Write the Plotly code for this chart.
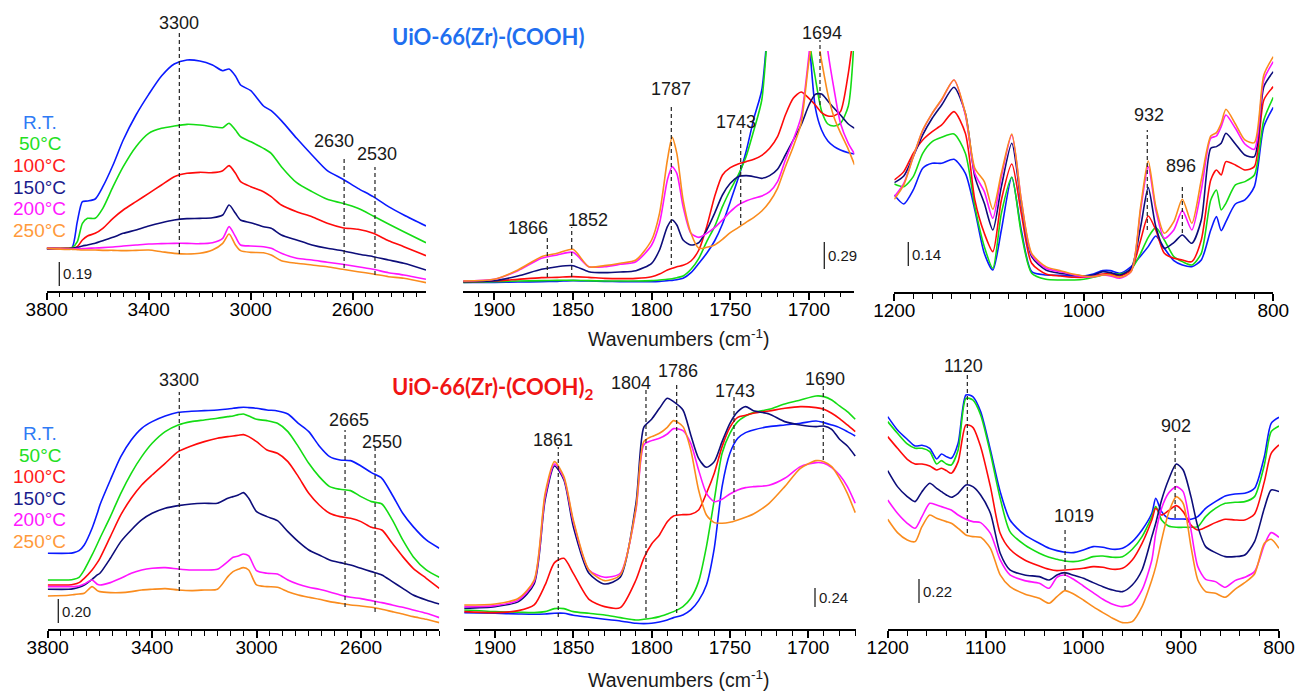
import plotly.graph_objects as go

W, H = 1296, 692

SERIES = ["R.T.", "50°C", "100°C", "150°C", "200°C", "250°C"]
LINE_COLORS = ["#0a1aff", "#14dc14", "#ff0a0a", "#0d0d7a", "#ff14ff", "#fa8c1e"]
TEXT_COLORS = ["#2f7bf5", "#22e022", "#ff1a1a", "#1a1a8c", "#ff1aff", "#ff9a3c"]

# ---------------- UiO-66(Zr)-(COOH) : 3800-2300 cm-1 (absorbance, a.u.)
WN_A = [3800, 3720, 3700, 3680, 3660, 3640, 3610, 3580, 3540, 3500, 3450, 3400, 3350, 3300, 3250, 3200, 3150,
        3110, 3085, 3060, 3040, 3000, 2950, 2920, 2880, 2820, 2760, 2700, 2640, 2580, 2520, 2460, 2400, 2313]
A_RT = [128, 128, 131, 208, 268, 270, 276, 313, 378, 453, 528, 590, 645, 681, 693, 690, 678,
        661, 666, 645, 618, 601, 555, 541, 511, 458, 408, 361, 336, 308, 283, 253, 228, 195]
A_50 = [128, 128, 130, 148, 203, 218, 218, 248, 313, 373, 433, 473, 488, 495, 500, 498, 493,
        490, 503, 483, 463, 448, 428, 413, 373, 325, 298, 275, 263, 248, 225, 201, 178, 145]
A_100 = [128, 128, 128, 133, 153, 165, 173, 188, 218, 243, 268, 293, 318, 343, 353, 356, 355,
         361, 376, 353, 328, 313, 298, 283, 258, 238, 223, 203, 190, 185, 173, 151, 133, 106]
A_150 = [126, 126, 128, 131, 135, 138, 143, 151, 161, 173, 183, 195, 205, 213, 217, 218, 220,
         228, 258, 233, 213, 205, 193, 188, 168, 153, 138, 128, 121, 111, 103, 93, 83, 63]
A_200 = [128, 126, 126, 127, 127, 128, 129, 130, 132, 135, 138, 141, 142, 143, 143, 142, 145,
         158, 193, 163, 138, 135, 133, 128, 113, 98, 93, 86, 80, 73, 65, 55, 48, 35]
A_250 = [128, 125, 125, 124, 123, 123, 123, 122, 122, 121, 122, 123, 118, 113, 111, 113, 123,
         143, 171, 138, 121, 116, 115, 108, 91, 83, 78, 73, 65, 58, 51, 43, 38, 25]

# ---------------- UiO-66(Zr)-(COOH) : 1920-1670 cm-1
WN_B = [1920, 1900, 1885, 1870, 1860, 1850, 1840, 1830, 1820, 1810, 1800, 1795, 1790, 1787, 1784, 1780, 1775,
        1770, 1765, 1760, 1755, 1750, 1745, 1740, 1735, 1730, 1725, 1720, 1715, 1710, 1705, 1700, 1696, 1692,
        1688, 1684, 1680, 1675, 1671]
B_RT = [26, 26, 27, 28, 29, 31, 30, 29, 28, 28, 28, 29, 31, 32, 34, 38, 55,
        83, 113, 150, 201, 268, 338, 418, 518, 603, 850, 1000, 1000, 1000, 1000, 760, 551, 483,
        450, 433, 423, 415, 411]
B_50 = [26, 28, 30, 31, 32, 32, 31, 30, 30, 30, 31, 33, 35, 37, 40, 45, 65,
        98, 148, 193, 253, 303, 348, 403, 483, 573, 850, 1000, 1000, 1000, 1000, 760, 640, 540,
        501, 495, 503, 555, 790]
B_100 = [28, 30, 35, 40, 41, 43, 41, 38, 37, 38, 43, 51, 63, 68, 73, 77, 90,
         123, 193, 283, 348, 370, 381, 388, 395, 407, 428, 463, 528, 578, 597, 578, 558, 535,
         525, 526, 538, 653, 800]
B_150 = [28, 31, 45, 65, 73, 76, 58, 55, 57, 61, 83, 123, 193, 213, 198, 153, 138,
         145, 183, 233, 288, 323, 343, 346, 343, 338, 346, 365, 408, 453, 498, 558, 590, 591,
         570, 548, 528, 501, 488]
B_200 = [30, 35, 61, 98, 108, 116, 73, 73, 80, 88, 138, 203, 333, 373, 353, 253, 173,
         161, 173, 190, 213, 238, 258, 270, 278, 285, 298, 328, 393, 453, 523, 710, 900, 900,
         720, 603, 503, 443, 411]
B_250 = [30, 35, 63, 103, 113, 125, 73, 76, 83, 93, 153, 233, 393, 461, 413, 273, 173,
         128, 131, 138, 155, 175, 190, 206, 221, 240, 268, 308, 373, 433, 503, 690, 790, 690,
         590, 520, 475, 425, 378]

# ---------------- UiO-66(Zr)-(COOH) : 1200-800 cm-1
WN_C = [1200, 1190, 1180, 1170, 1160, 1150, 1137, 1125, 1115, 1105, 1096, 1087, 1076, 1066, 1055, 1040, 1025,
        1010, 1000, 990, 980, 972, 962, 950, 940, 932, 924, 915, 905, 896, 886, 876, 866, 860, 855, 850, 840,
        830, 820, 810, 800]
C_RT = [292, 265, 307, 372, 387, 387, 399, 357, 247, 117, 67, 187, 345, 187, 62, 52, 51,
        49, 49, 55, 65, 65, 57, 77, 109, 137, 169, 132, 95, 82, 77, 97, 187, 227, 185, 212, 265,
        277, 317, 497, 555]
C_50 = [325, 317, 347, 417, 452, 465, 475, 417, 257, 137, 72, 237, 345, 177, 57, 39, 37,
        37, 39, 45, 52, 55, 55, 69, 117, 165, 194, 157, 107, 92, 82, 117, 277, 307, 247, 267, 322,
        332, 352, 517, 585]
C_100 = [337, 362, 417, 457, 482, 502, 542, 477, 277, 177, 122, 277, 385, 237, 87, 55, 49,
         45, 45, 49, 55, 55, 49, 67, 157, 229, 187, 117, 102, 97, 92, 157, 337, 367, 352, 392, 382,
         367, 377, 577, 617]
C_150 = [329, 349, 407, 472, 522, 562, 615, 537, 347, 267, 187, 317, 447, 267, 107, 67, 57,
         52, 49, 52, 62, 59, 52, 72, 197, 314, 197, 132, 149, 172, 147, 217, 432, 437, 447, 477, 445,
         412, 407, 617, 662]
C_200 = [287, 327, 407, 485, 537, 577, 637, 532, 357, 302, 222, 347, 472, 277, 112, 72, 62,
         52, 47, 47, 52, 49, 42, 62, 247, 377, 247, 162, 187, 245, 187, 307, 462, 469, 497, 532, 492,
         445, 429, 637, 692]
C_250 = [279, 322, 407, 487, 537, 579, 637, 537, 372, 332, 249, 357, 475, 277, 117, 77, 65,
         54, 49, 47, 52, 52, 45, 62, 257, 394, 257, 177, 212, 279, 207, 337, 469, 479, 507, 549, 505,
         457, 449, 652, 707]

# ---------------- UiO-66(Zr)-(COOH)2 : 3800-2300 cm-1
WN_D = [3800, 3720, 3700, 3680, 3660, 3630, 3610, 3600, 3560, 3520, 3480, 3440, 3400, 3350, 3300, 3250, 3200,
        3150, 3110, 3090, 3070, 3050, 3030, 3000, 2960, 2920, 2880, 2840, 2800, 2760, 2720, 2680, 2640, 2600,
        2560, 2520, 2480, 2440, 2400, 2350, 2300]
D_RT = [228, 228, 230, 236, 253, 303, 348, 373, 448, 518, 568, 603, 623, 640, 651, 654, 656,
        658, 661, 663, 665, 666, 665, 663, 658, 655, 646, 618, 593, 550, 518, 508, 506, 490,
        470, 453, 403, 348, 308, 268, 243]
D_50 = [148, 148, 150, 156, 178, 223, 256, 273, 338, 408, 468, 518, 558, 593, 613, 623, 628,
        633, 638, 640, 644, 646, 640, 630, 626, 618, 593, 548, 498, 458, 428, 420, 416, 398,
        383, 376, 328, 268, 218, 178, 156]
D_100 = [133, 133, 135, 140, 153, 178, 200, 213, 278, 343, 393, 433, 463, 498, 533, 550, 563,
         573, 578, 580, 582, 584, 578, 563, 538, 528, 503, 458, 408, 373, 348, 338, 333, 323,
         306, 298, 258, 218, 183, 153, 123]
D_150 = [120, 120, 122, 126, 133, 150, 163, 168, 213, 263, 298, 328, 348, 363, 371, 376, 378,
         378, 393, 398, 403, 410, 393, 353, 338, 326, 293, 263, 238, 223, 208, 200, 193, 183,
         173, 163, 143, 123, 103, 88, 76]
D_200 = [128, 128, 128, 130, 136, 148, 135, 133, 140, 153, 168, 178, 183, 185, 181, 178, 178,
         180, 203, 216, 220, 226, 220, 176, 168, 166, 148, 135, 126, 120, 112, 103, 96, 92,
         86, 80, 73, 66, 58, 48, 35]
D_250 = [100, 102, 104, 106, 108, 128, 116, 113, 110, 110, 113, 118, 120, 122, 118, 116, 118,
         120, 158, 173, 180, 185, 178, 133, 128, 126, 113, 103, 96, 90, 83, 78, 73, 70,
         66, 60, 53, 46, 38, 30, 20]

# ---------------- UiO-66(Zr)-(COOH)2 : 1920-1670 cm-1
WN_E = [1920, 1900, 1885, 1875, 1868, 1862, 1856, 1850, 1840, 1830, 1820, 1810, 1805, 1800, 1795, 1790, 1786,
        1780, 1775, 1770, 1765, 1760, 1755, 1750, 1745, 1740, 1735, 1725, 1715, 1705, 1695, 1690, 1685, 1680,
        1675, 1670]
E_RT = [50, 48, 46, 45, 46, 48, 48, 42, 36, 30, 25, 18, 17, 18, 22, 28, 35,
        43, 58, 86, 133, 243, 428, 528, 573, 590, 598, 608, 613, 618, 625, 620, 613, 605, 593, 580]
E_50 = [58, 53, 51, 50, 53, 62, 62, 53, 48, 43, 35, 28, 30, 33, 38, 46, 53,
        68, 93, 143, 248, 388, 528, 588, 623, 640, 650, 660, 676, 688, 700, 698, 688, 670, 653, 630]
E_100 = [53, 50, 56, 73, 133, 200, 213, 168, 90, 68, 65, 148, 213, 256, 283, 323, 340,
         344, 345, 358, 408, 468, 548, 606, 636, 642, 648, 655, 663, 668, 665, 660, 648, 632, 613, 593]
E_150 = [63, 68, 83, 136, 388, 490, 448, 308, 168, 136, 156, 378, 606, 630, 663, 693, 683,
         658, 583, 513, 486, 503, 563, 618, 653, 668, 656, 646, 623, 613, 608, 610, 600, 570, 550, 520]
E_200 = [68, 71, 88, 143, 398, 496, 453, 323, 178, 156, 168, 358, 553, 566, 573, 586, 602,
         596, 558, 478, 408, 383, 390, 406, 418, 425, 428, 432, 453, 488, 500, 498, 485, 463, 428, 378]
E_250 = [73, 76, 93, 148, 408, 503, 458, 328, 178, 146, 163, 363, 563, 578, 588, 606, 626,
         608, 538, 418, 343, 320, 318, 321, 328, 336, 346, 378, 428, 483, 506, 503, 488, 453, 408, 350]

# ---------------- UiO-66(Zr)-(COOH)2 : 1200-800 cm-1
WN_F = [1200, 1190, 1180, 1172, 1165, 1157, 1150, 1145, 1140, 1135, 1128, 1120, 1113, 1105, 1095, 1085, 1075,
        1060, 1045, 1035, 1027, 1019, 1010, 1000, 990, 980, 970, 960, 950, 940, 930, 926, 920, 913, 905, 898,
        890, 883, 875, 865, 855, 845, 835, 825, 815, 808, 800]
F_RT = [638, 598, 570, 550, 552, 543, 511, 526, 518, 513, 558, 703, 698, 653, 538, 413, 328,
        283, 258, 243, 236, 231, 230, 238, 248, 246, 240, 243, 263, 298, 348, 393, 353, 333, 331, 331,
        330, 338, 363, 383, 400, 406, 408, 423, 518, 618, 636]
F_50 = [623, 588, 556, 543, 543, 533, 496, 506, 496, 493, 538, 693, 688, 643, 528, 393, 293,
        253, 228, 216, 210, 205, 203, 208, 218, 220, 216, 218, 240, 278, 338, 368, 328, 310, 306, 306,
        306, 308, 338, 363, 378, 381, 383, 398, 493, 593, 610]
F_100 = [578, 543, 510, 496, 496, 490, 478, 483, 476, 468, 503, 613, 606, 548, 428, 288, 240,
         208, 190, 180, 176, 178, 180, 183, 188, 186, 180, 183, 208, 258, 328, 363, 343, 356, 371, 353,
         313, 298, 306, 320, 330, 328, 328, 346, 443, 528, 553]
F_150 = [476, 428, 398, 383, 413, 438, 423, 413, 403, 396, 408, 433, 428, 403, 348, 228, 178,
         163, 158, 148, 163, 170, 162, 153, 140, 128, 118, 113, 133, 178, 278, 318, 388, 448, 496, 478,
         398, 308, 248, 230, 218, 218, 223, 263, 363, 418, 413]
F_200 = [388, 348, 318, 303, 338, 378, 373, 368, 363, 358, 343, 330, 323, 320, 288, 208, 163,
         146, 138, 123, 156, 163, 150, 130, 110, 90, 75, 68, 76, 118, 208, 288, 363, 408, 428, 413,
         298, 188, 150, 143, 126, 146, 156, 173, 253, 290, 276]
F_250 = [330, 290, 268, 263, 308, 343, 333, 328, 323, 318, 303, 283, 278, 276, 243, 163, 128,
         106, 93, 78, 98, 116, 106, 88, 68, 50, 33, 20, 23, 68, 148, 188, 268, 348, 398, 378,
         248, 148, 113, 108, 96, 120, 140, 166, 258, 270, 243]

# ---------------- layout helpers (pixel -> paper)
def pxx(px):
    return px / W


def pxy(py):
    return 1 - py / H


TICK_FONT = dict(family="Liberation Sans, Arial, sans-serif", size=19, color="black")
LABEL_FONT = dict(family="Liberation Sans, Arial, sans-serif", size=18, color="#1a1a1a")
SMALL_FONT = dict(family="Liberation Sans, Arial, sans-serif", size=15, color="#1a1a1a")

panels = [
    dict(wn=WN_A, ys=[A_RT, A_50, A_100, A_150, A_200, A_250], xpx=(46.7, 426.0), ypx=(291.0, 51.0),
         rng=[3800, 2313], tv=[3800, 3400, 3000, 2600], minor=50),
    dict(wn=WN_B, ys=[B_RT, B_50, B_100, B_150, B_200, B_250], xpx=(463.3, 854.3), ypx=(291.0, 51.0),
         rng=[1919.7, 1671.2], tv=[1900, 1850, 1800, 1750, 1700], minor=10),
    dict(wn=WN_C, ys=[C_RT, C_50, C_100, C_150, C_200, C_250], xpx=(894.3, 1273.3), ypx=(292.3, 52.3),
         rng=[1200, 800], tv=[1200, 1000, 800], minor=20),
    dict(wn=WN_D, ys=[D_RT, D_50, D_100, D_150, D_200, D_250], xpx=(47.7, 439.3), ypx=(629.3, 389.3),
         rng=[3800, 2300], tv=[3800, 3400, 3000, 2600], minor=50),
    dict(wn=WN_E, ys=[E_RT, E_50, E_100, E_150, E_200, E_250], xpx=(464.3, 856.0), ypx=(629.3, 389.3),
         rng=[1919.6, 1669.5], tv=[1900, 1850, 1800, 1750, 1700], minor=10),
    dict(wn=WN_F, ys=[F_RT, F_50, F_100, F_150, F_200, F_250], xpx=(887.7, 1279.0), ypx=(629.3, 389.3),
         rng=[1200, 800], tv=[1200, 1100, 1000, 900, 800], minor=20),
]

fig = go.Figure()
layout = dict(width=W, height=H, margin=dict(l=0, r=0, t=0, b=0, pad=0, autoexpand=False),
              paper_bgcolor="white", plot_bgcolor="rgba(0,0,0,0)", showlegend=False)

for i, p in enumerate(panels):
    k = "" if i == 0 else str(i + 1)
    for j, y in enumerate(p["ys"]):
        fig.add_trace(go.Scatter(x=p["wn"], y=y, mode="lines", name=SERIES[j],
                                 line=dict(color=LINE_COLORS[j], width=1.6, shape="spline", smoothing=0.7),
                                 xaxis="x" + k, yaxis="y" + k, hoverinfo="skip"))
    layout["xaxis" + k] = dict(
        domain=[pxx(p["xpx"][0]), pxx(p["xpx"][1])], range=p["rng"], anchor="y" + k, automargin=False,
        showline=True, linecolor="black", linewidth=1.5, showgrid=False, zeroline=False,
        ticks="outside", ticklen=7, tickwidth=1.6, tickcolor="black", ticklabelstandoff=-7,
        tickmode="array", tickvals=p["tv"], ticktext=[str(v) for v in p["tv"]], tickfont=TICK_FONT,
        minor=dict(ticks="outside", ticklen=4.5, tickwidth=1.2, tickcolor="black",
                   tickmode="linear", tick0=0, dtick=p["minor"], showgrid=False),
        fixedrange=True)
    layout["yaxis" + k] = dict(domain=[pxy(p["ypx"][0]), pxy(p["ypx"][1])], range=[0, 720],
                               anchor="x" + k, visible=False, automargin=False, fixedrange=True)

shapes = []
annotations = []

# peak markers: (axis, wavenumber, label, line top px, line bottom px, label centre y px, label x shift)
MARKS = [
    ("x", 3280, "3300", 30, 254, 23, 0),
    ("x", 2634, "2630", 159, 268, 141, -10),
    ("x", 2513, "2530", 167, 275, 154, 2),
    ("x2", 1693, "1694", 40, 105, 33, 2),
    ("x2", 1787.5, "1787", 107, 265, 89, 0),
    ("x2", 1743.4, "1743", 130, 225, 122, -5),
    ("x2", 1866.3, "1866", 236, 277, 228, -19),
    ("x2", 1850.8, "1852", 227, 277, 220, 16),
    ("x3", 933, "932", 130, 230, 115, 2),
    ("x3", 896, "896", 187, 233, 166, -1),
    ("x4", 3296, "3300", 392, 591, 380, 0),
    ("x4", 2661, "2665", 430, 607, 420, 4),
    ("x4", 2546, "2550", 447, 612, 442, 7),
    ("x5", 1859.6, "1861", 447, 617, 440, -5),
    ("x5", 1803.6, "1804", 388, 618, 383, -15),
    ("x5", 1784, "1786", 382, 613, 371, 1),
    ("x5", 1747.4, "1743", 395, 520, 391, 1),
    ("x5", 1690.4, "1690", 385, 460, 379, 2),
    ("x6", 1118.6, "1120", 372, 533, 366, -4),
    ("x6", 1018.7, "1019", 527, 590, 516, 9),
    ("x6", 906.2, "902", 438, 518, 426, 1),
]
for ax, wn, lab, ytop, ybot, ylab, dx in MARKS:
    shapes.append(dict(type="line", xref=ax, yref="paper", x0=wn, x1=wn, y0=pxy(ybot), y1=pxy(ytop),
                       line=dict(color="#222222", width=1.2, dash="4px,3px")))
    annotations.append(dict(xref=ax, yref="paper", x=wn, y=pxy(ylab), text=lab, showarrow=False,
                            xshift=dx, xanchor="center", yanchor="middle", font=LABEL_FONT, borderpad=0))

# absorbance scale bars: (x px, top px, bottom px, label)
SCALES = [(59.3, 262, 286, "0.19"), (824.3, 242, 269, "0.29"), (908.3, 242, 266, "0.14"),
          (58.3, 599, 623, "0.20"), (815.0, 588, 607, "0.24"), (919.0, 579, 603, "0.22")]
for x, yt, yb, lab in SCALES:
    shapes.append(dict(type="line", xref="paper", yref="paper", x0=pxx(x), x1=pxx(x), y0=pxy(yb), y1=pxy(yt),
                       line=dict(color="#222222", width=1.3)))
    annotations.append(dict(xref="paper", yref="paper", x=pxx(x + 3), y=pxy((yt + yb) / 2), text=lab,
                            showarrow=False, xanchor="left", yanchor="middle", font=SMALL_FONT, borderpad=0))

# temperature labels
for top in (122.3, 433.5):
    for j, s in enumerate(SERIES):
        annotations.append(dict(xref="paper", yref="paper", x=pxx(39.5), y=pxy(top + j * 21.6), text=s,
                                showarrow=False, xanchor="center", yanchor="middle", borderpad=0,
                                font=dict(family="Liberation Sans, Arial, sans-serif", size=19,
                                          color=TEXT_COLORS[j])))

# sample titles
annotations.append(dict(xref="paper", yref="paper", x=pxx(488), y=pxy(36), text="<b>UiO-66(Zr)-(COOH)</b>",
                        showarrow=False, xanchor="center", yanchor="middle", borderpad=0,
                        font=dict(family="Lato, Open Sans, sans-serif", size=22, color="#1f6fef")))
annotations.append(dict(xref="paper", yref="paper", x=pxx(493), y=pxy(388),
                        text="<b>UiO-66(Zr)-(COOH)<sub>2</sub></b>",
                        showarrow=False, xanchor="center", yanchor="middle", borderpad=0,
                        font=dict(family="Lato, Open Sans, sans-serif", size=22, color="#f01414")))

# axis titles
for yc in (338, 679):
    annotations.append(dict(xref="paper", yref="paper", x=pxx(679), y=pxy(yc),
                            text="Wavenumbers (cm<sup>-1</sup>)", showarrow=False,
                            xanchor="center", yanchor="middle", borderpad=0,
                            font=dict(family="Liberation Sans, Arial, sans-serif", size=19.5, color="#1a1a1a")))

layout["shapes"] = shapes
layout["annotations"] = annotations
fig.update_layout(**layout)
fig.write_html("out.html", config={"displayModeBar": False},
               post_script="document.body.style.margin='0px';document.body.style.overflow='hidden';")
